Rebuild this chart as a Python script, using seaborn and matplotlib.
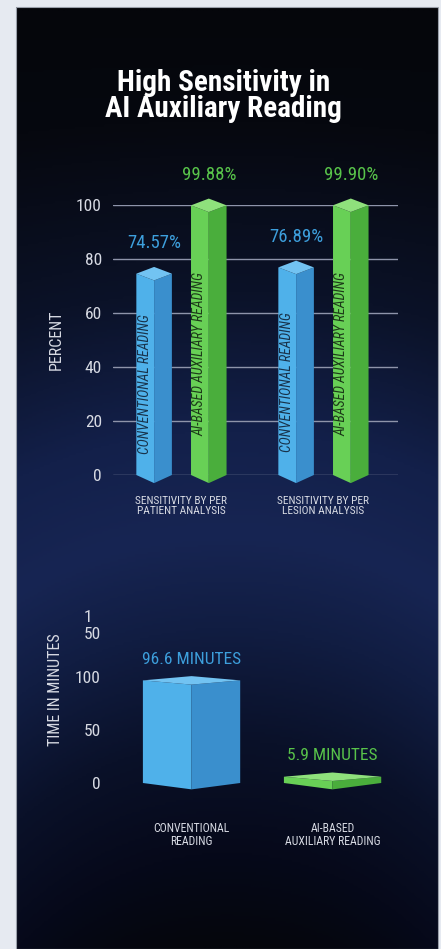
import numpy as np
import pandas as pd
import matplotlib
matplotlib.use("Agg")
import matplotlib.pyplot as plt
from matplotlib import font_manager as fm
from matplotlib.colors import LinearSegmentedColormap
from matplotlib.patches import Polygon, Rectangle
import seaborn as sns

# ---------------- data ----------------
title = "High Sensitivity in\nAI Auxiliary Reading"
sens_groups = ["SENSITIVITY BY PER\nPATIENT ANALYSIS", "SENSITIVITY BY PER\nLESION ANALYSIS"]
methods = ["CONVENTIONAL READING", "AI-BASED AUXILIARY READING"]
sens_conventional = [74.57, 76.89]
sens_ai = [99.88, 99.90]
sens_ticks = [0, 20, 40, 60, 80, 100]
sens_ylabel = "PERCENT"

time_cats = ["CONVENTIONAL\nREADING", "AI-BASED\nAUXILIARY READING"]
time_values = [96.6, 5.9]
time_units = "MINUTES"
time_ticks = [0, 50, 100, 150]
time_ticklabels = ["0", "50", "100", "1\n50"]
time_ylabel = "TIME IN MINUTES"

# ---------------- font choice (narrow if available) ----------------
sns.set_style("white")
entries = fm.fontManager.ttflist
names = {e.name for e in entries}
choice = None
for n in ["Roboto Condensed", "Liberation Sans Narrow", "Open Sans Condensed", "Noto Sans Condensed"]:
    if n in names:
        choice = (n, "normal", 1.0)
        break
if choice is None:
    for fam in ["Noto Sans", "DejaVu Sans", "Open Sans", "Roboto"]:
        hits = [e for e in entries if e.name == fam and e.stretch in ("condensed", "semi-condensed", "extra-condensed")]
        if hits:
            st = "condensed" if any(h.stretch == "condensed" for h in hits) else hits[0].stretch
            choice = (fam, st, 0.9)
            break
if choice is None:
    choice = ("Liberation Sans", "normal", 0.86)
FAM, STRETCH, K = choice
plt.rcParams["font.family"] = [FAM, "DejaVu Sans"]
plt.rcParams["font.stretch"] = STRETCH

BLUE = {"base": "#4aaee6", "front": "#4fb1ea", "side": "#3a8fcd", "top": "#72c3f2", "text": "#3d9fdc", "inner": "#18324a"}
GREEN = {"base": "#62cc52", "front": "#68d056", "side": "#4aae3c", "top": "#8fe17c", "text": "#58c34a", "inner": "#1c3a18"}
TICK_COLOR = "#d7dae3"
GRID_COLOR = "#8e94aa"

W, H = 441, 949
fig = plt.figure(figsize=(W / 100, H / 100), dpi=100)

# ---------------- background ----------------
bg = fig.add_axes([0, 0, 1, 1])
bg.set_xlim(0, W)
bg.set_ylim(H, 0)
bg.axis("off")
bg.add_patch(Rectangle((0, 0), W, H, color="#e6eaf1", zorder=0))
cmap = LinearSegmentedColormap.from_list(
    "panel",
    [(0.0, "#05060b"), (0.12, "#06080f"), (0.30, "#0b1228"), (0.45, "#13204a"),
     (0.56, "#172553"), (0.66, "#111d42"), (0.78, "#0a1129"), (0.90, "#06091a"), (1.0, "#05060c")],
)
yy = np.linspace(0, 1, 400)[:, None]
xx = np.linspace(-1, 1, 200)[None, :]
grad = np.clip(yy * (1 - 0.10 * xx ** 2) + 0 * xx, 0, 1)
bg.imshow(cmap(grad), extent=[16, 438, H, 7], aspect="auto", zorder=1, interpolation="bilinear")
bg.add_patch(Rectangle((16, 7), 422, H - 7, fill=False, ec="#9aa0aa", lw=0.8, zorder=2))
bg.text(223.5, 96, title, ha="center", va="center", color="white", fontsize=21 * K,
        fontweight="bold", linespacing=0.95, zorder=3)


def draw_prisms(ax, palettes, d_top, d_bot):
    bars = []
    for patch in ax.patches:
        if not isinstance(patch, Rectangle):
            continue
        x, w, h = patch.get_x(), patch.get_width(), patch.get_height()
        fc = np.array(patch.get_facecolor()[:3])
        pal = min(palettes, key=lambda p: np.sum((np.array(matplotlib.colors.to_rgb(p["base"])) - fc) ** 2))
        patch.set_visible(False)
        xm = x + w / 2
        left = [(x, 0), (xm, -d_bot), (xm, h - d_top), (x, h)]
        right = [(xm, -d_bot), (x + w, 0), (x + w, h), (xm, h - d_top)]
        top = [(x, h), (xm, h - d_top), (x + w, h), (xm, h + d_top)]
        ax.add_patch(Polygon(left, closed=True, fc=pal["front"], ec="none", zorder=3, clip_on=False))
        ax.add_patch(Polygon(right, closed=True, fc=pal["side"], ec="none", zorder=3, clip_on=False))
        ax.add_patch(Polygon(top, closed=True, fc=pal["top"], ec="none", zorder=3, clip_on=False))
        bars.append((x, w, h, pal))
    return bars


# ---------------- top chart ----------------
df1 = pd.DataFrame({
    "group": sens_groups * 2,
    "method": [methods[0]] * 2 + [methods[1]] * 2,
    "value": sens_conventional + sens_ai,
})
ax1 = fig.add_axes([113 / W, 1 - 475 / H, 285 / W, 270 / H])
ax1.set_facecolor("none")
sns.barplot(data=df1, x="group", y="value", hue="method", hue_order=methods,
            palette=[BLUE["base"], GREEN["base"]], width=0.77, gap=0.35,
            saturation=1, legend=False, ax=ax1, zorder=3)
ax1.set_xlim(-0.482, 1.525)
ax1.set_ylim(0, 100)
ax1.set_yticks(sens_ticks)
ax1.yaxis.grid(True, color=GRID_COLOR, lw=1)
ax1.set_axisbelow(True)
for s in ax1.spines.values():
    s.set_visible(False)
ax1.tick_params(axis="y", length=0, pad=8, labelsize=12.5 * K, labelcolor=TICK_COLOR)
ax1.tick_params(axis="x", length=0, pad=15, labelsize=8.2 * K, labelcolor=TICK_COLOR)
for t in ax1.get_xticklabels():
    t.set_linespacing(1.0)
ax1.set_xlabel("")
ax1.set_ylabel(sens_ylabel, color=TICK_COLOR, fontsize=11.5 * K)
ax1.yaxis.set_label_coords(-0.172, 0.5)

bars1 = draw_prisms(ax1, [BLUE, GREEN], d_top=2.5, d_bot=3.0)
for (x, w, h, pal) in bars1:
    ax1.text(x + w / 2, h + 11.3, f"{h:.2f}%", ha="center", va="center",
             color=pal["text"], fontsize=13.5 * K, zorder=5, clip_on=False)
    name = methods[0] if pal is BLUE else methods[1]
    ax1.text(x + w / 4, 0.45 * h, name, rotation=90, ha="center", va="center",
             color=pal["inner"], fontsize=10.0 * K, style="italic", zorder=5)

# ---------------- bottom chart ----------------
df2 = pd.DataFrame({"cat": time_cats, "value": time_values})
ax2 = fig.add_axes([113 / W, 1 - 783 / H, 285 / W, 170 / H])
ax2.set_facecolor("none")
sns.barplot(data=df2, x="cat", y="value", hue="cat", palette=[BLUE["base"], GREEN["base"]],
            width=0.69, saturation=1, legend=False, ax=ax2, zorder=3)
ax2.set_xlim(-0.557, 1.464)
ax2.set_ylim(0, 160)
ax2.set_yticks(time_ticks)
ax2.set_yticklabels(time_ticklabels)
ax2.get_yticklabels()[-1].set_multialignment("left")
ax2.get_yticklabels()[-1].set_linespacing(1.15)
for s in ax2.spines.values():
    s.set_visible(False)
ax2.tick_params(axis="y", length=0, pad=9, labelsize=12.5 * K, labelcolor=TICK_COLOR)
ax2.tick_params(axis="x", length=0, pad=28, labelsize=8.5 * K, labelcolor=TICK_COLOR)
for t in ax2.get_xticklabels():
    t.set_linespacing(1.0)
ax2.set_xlabel("")
ax2.set_ylabel(time_ylabel, color=TICK_COLOR, fontsize=11.5 * K)
ax2.yaxis.set_label_coords(-0.175, 0.55)

bars2 = draw_prisms(ax2, [BLUE, GREEN], d_top=4.0, d_bot=6.0)
for (x, w, h, pal) in bars2:
    ax2.text(x + w / 2, h + 20, f"{h:.1f} {time_units}", ha="center", va="center",
             color=pal["text"], fontsize=12.5 * K, zorder=5, clip_on=False)

fig.savefig("out.png", dpi=100)
